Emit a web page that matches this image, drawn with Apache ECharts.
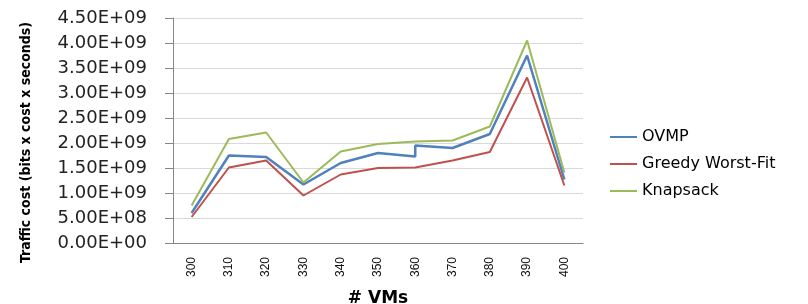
<!DOCTYPE html>
<html>
<head>
<meta charset="utf-8">
<script src="https://cdn.jsdelivr.net/npm/echarts@6/dist/echarts.min.js"></script>
<style>html,body{margin:0;padding:0;background:#fff}#c{width:808px;height:304px}</style>
</head>
<body>
<div id="c"></div>
<script>
var categories = ['300','310','320','330','340','350','360','370','380','390','400'];
var ovmp     = [0.60e9, 1.75e9, 1.72e9, 1.17e9, 1.60e9, 1.80e9, 1.73e9, 1.90e9, 2.18e9, 3.75e9, 1.27e9];
var ovmpStepCategory = '360';
var ovmpStepValue = 1.95e9;
var greedy   = [0.52e9, 1.51e9, 1.65e9, 0.95e9, 1.37e9, 1.50e9, 1.51e9, 1.65e9, 1.82e9, 3.31e9, 1.15e9];
var knapsack = [0.75e9, 2.08e9, 2.21e9, 1.21e9, 1.83e9, 1.98e9, 2.03e9, 2.05e9, 2.33e9, 4.05e9, 1.41e9];
var seriesNames = ['OVMP', 'Greedy Worst-Fit', 'Knapsack'];

function fmt(v) {
  if (v === 0) return '0.00E+00';
  var e = Math.floor(Math.log10(Math.abs(v)) + 1e-9);
  var m = v / Math.pow(10, e);
  return m.toFixed(2) + 'E' + (e >= 0 ? '+' : '-') + String(Math.abs(e)).padStart(2, '0');
}

var ovmpData = [];
categories.forEach(function (c, i) {
  ovmpData.push([c, ovmp[i]]);
  if (c === ovmpStepCategory) ovmpData.push([c, ovmpStepValue]);
});

var chart = echarts.init(document.getElementById('c'), null, {renderer: 'canvas'});
var colors = ['#4F81BD', '#C0504D', '#9BBB59'];
chart.setOption({
  animation: false,
  color: colors,
  grid: {left: 173, right: 225, top: 18, bottom: 61, outerBoundsMode: 'none', containLabel: false},
  legend: {
    orient: 'vertical',
    left: 605,
    top: 124,
    itemWidth: 27,
    itemHeight: 2,
    itemGap: 11,
    icon: 'rect',
    data: seriesNames,
    textStyle: {fontFamily: 'DejaVu Sans', fontSize: 16, color: '#000', lineHeight: 16, padding: [0,0,0,0]}
  },
  xAxis: {
    type: 'category',
    data: categories,
    boundaryGap: true,
    name: '# VMs',
    nameLocation: 'middle',
    nameGap: 47,
    nameTextStyle: {fontFamily: 'DejaVu Sans', fontWeight: 'bold', fontSize: 17, color: '#000'},
    axisLine: {lineStyle: {color: '#868686', width: 1}},
    axisTick: {show: false},
    axisLabel: {rotate: 90, margin: 14, fontFamily: 'Liberation Sans', fontSize: 12, color: '#111'}
  },
  yAxis: {
    type: 'value',
    min: 0,
    max: 4.5e9,
    interval: 0.5e9,
    name: 'Traffic cost (bits x cost x seconds)',
    nameLocation: 'middle',
    nameGap: 140,
    nameTextStyle: {fontFamily: "'DejaVu Sans Condensed', 'Liberation Sans'", fontWeight: 'bold', fontSize: 14, color: '#000', padding: [0, 24, 0, 0]},
    axisLine: {show: true, lineStyle: {color: '#868686', width: 1}},
    axisTick: {show: true, length: 8, lineStyle: {color: '#868686'}},
    splitLine: {lineStyle: {color: '#d9d9d9', width: 1}},
    axisLabel: {formatter: fmt, margin: 26, fontFamily: 'DejaVu Sans', fontSize: 18, color: '#222'}
  },
  series: [
    {name: seriesNames[0], type: 'line', data: ovmpData, symbol: 'none', lineStyle: {width: 2.5, color: colors[0]}},
    {name: seriesNames[1], type: 'line', data: greedy, symbol: 'none', lineStyle: {width: 2, color: colors[1]}},
    {name: seriesNames[2], type: 'line', data: knapsack, symbol: 'none', lineStyle: {width: 2, color: colors[2]}}
  ]
});
</script>
</body>
</html>
